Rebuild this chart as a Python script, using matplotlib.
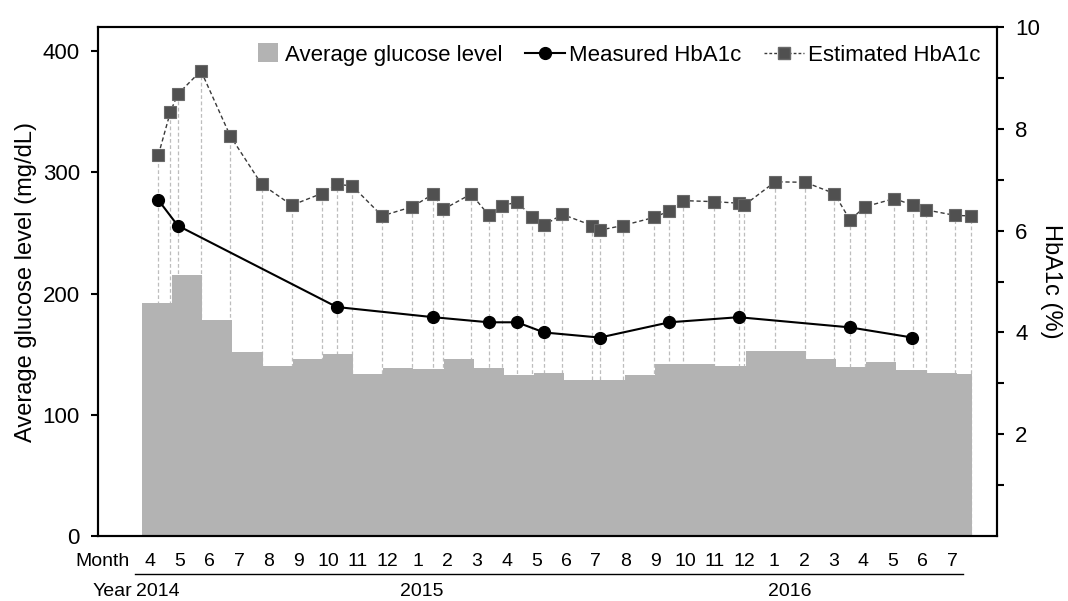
import matplotlib
matplotlib.use("Agg")
import matplotlib.pyplot as plt
import matplotlib.transforms as mtransforms
from matplotlib.legend_handler import HandlerPatch
from matplotlib.lines import Line2D
from matplotlib.patches import Patch, Rectangle
import numpy as np

plt.rcParams["font.family"] = ["Liberation Sans", "DejaVu Sans"]

# monthly average glucose (mg/dL), Apr 2014 .. Jul 2016
months = ["4", "5", "6", "7", "8", "9", "10", "11", "12",
          "1", "2", "3", "4", "5", "6", "7", "8", "9", "10", "11", "12",
          "1", "2", "3", "4", "5", "6", "7"]
years = ["2014", "2015", "2016"]
glucose = [192.7, 215.3, 178.7, 151.8, 140.2, 146.5, 150.4, 133.9, 138.8,
           137.7, 146.0, 139.1, 133.0, 134.2, 128.4, 128.4, 133.0, 142.1,
           141.6, 140.2, 152.8, 152.8, 146.0, 139.4, 143.5, 137.2, 134.2, 133.6]
# fraction of each month covered by the record
coverage = [1.0] * 27 + [0.5]

# measurement times in months since start of Apr 2014
est_t = [0.55, 0.95, 1.19, 1.96, 2.93, 3.97, 4.97, 5.96, 6.46, 6.97, 7.96,
         8.96, 9.66, 9.99, 10.91, 11.50, 11.93, 12.43, 12.94, 13.33, 13.93,
         14.92, 15.17, 15.93, 16.97, 17.48, 17.94, 18.96, 19.77, 19.96, 20.98,
         21.98, 22.94, 23.46, 23.96, 24.93, 25.54, 25.97, 26.94, 27.46]
est_hba1c = [7.49, 8.34, 8.68, 9.14, 7.86, 6.91, 6.50, 6.73, 6.91, 6.88, 6.29,
             6.47, 6.72, 6.42, 6.72, 6.30, 6.49, 6.56, 6.27, 6.11, 6.32,
             6.10, 6.01, 6.10, 6.26, 6.39, 6.59, 6.57, 6.54, 6.50, 6.96,
             6.95, 6.73, 6.21, 6.47, 6.63, 6.50, 6.41, 6.30, 6.29]

meas_t = [0.55, 1.19, 6.46, 9.66, 11.49, 12.43, 13.33, 15.17, 17.48, 19.77,
          23.46, 25.53]
meas_hba1c = [6.6, 6.1, 4.5, 4.3, 4.2, 4.2, 4.0, 3.9, 4.2, 4.3, 4.1, 3.9]

BAR_C = "#b3b3b3"
EST_C = "#505050"


def square_patch(legend, orig_handle, xdescent, ydescent, width, height, fontsize):
    s = height * 1.25
    return Rectangle((xdescent + width - s - 2, ydescent + (height - s) / 2), s, s)


fig = plt.figure(figsize=(10.68, 6.01), dpi=100)
ax1 = fig.add_axes([0.0918, 0.108, 0.8417, 0.847])
ax2 = ax1.twinx()

ax1.set_xlim(-1.45, 28.33)
ax1.set_ylim(0, 420)
ax2.set_ylim(0, 10)

# dashed drop lines, in ax1 behind the bars but scaled by the right axis
blend = mtransforms.blended_transform_factory(ax1.transData, ax2.transData)
ax1.vlines(est_t, 0, est_hba1c, transform=blend, colors="#bdbdbd",
           linestyles=(0, (3, 2)), linewidth=0.9, zorder=1)

ax1.bar(np.arange(len(glucose)), glucose, width=coverage, align="edge",
        color=BAR_C, linewidth=0, zorder=2)

ax2.plot(est_t, est_hba1c, color="#3a3a3a", linewidth=1.0, linestyle=(0, (3, 2)),
         marker="s", markersize=9, markerfacecolor=EST_C,
         markeredgecolor="#6a6a6a", markeredgewidth=0.8, zorder=3)
ax2.plot(meas_t, meas_hba1c, color="black", linewidth=1.5, marker="o",
         markersize=8.5, zorder=4)

for sp in list(ax1.spines.values()) + list(ax2.spines.values()):
    sp.set_linewidth(1.5)

ax1.set_yticks([0, 100, 200, 300, 400])
ax1.tick_params(axis="y", direction="out", length=5, width=1.5, labelsize=16, pad=8)
ax1.set_xticks([])
ax1.set_ylabel("Average glucose level (mg/dL)", fontsize=17, labelpad=4)

ax2.set_yticks([2, 4, 6, 8, 10])
ax2.set_yticks([1, 3, 5, 7, 9], minor=True)
ax2.tick_params(axis="y", which="both", direction="out", length=5, width=1.5,
                labelsize=16, pad=8)
ax2.set_ylabel("HbA1c (%)", fontsize=17, rotation=270, va="center")
ax2.yaxis.set_label_coords(1.06, 0.5)

# month / year rows under the axis
xt = mtransforms.blended_transform_factory(ax1.transData, ax1.transAxes)
for xpos, m in zip(np.linspace(0.27, 26.86, len(months)), months):
    ax1.text(xpos, -0.05, m, transform=xt, ha="center", va="center", fontsize=14)
ax1.text(-0.42, -0.05, "Month", transform=xt, ha="right", va="center", fontsize=14)
ax1.plot([-0.22, 27.19], [-0.075, -0.075], transform=xt, color="black",
         linewidth=1.0, clip_on=False)
ax1.text(-0.33, -0.109, "Year", transform=xt, ha="right", va="center", fontsize=14)
for xpos, y in zip([0.54, 9.28, 21.48], years):
    ax1.text(xpos, -0.109, y, transform=xt, ha="center", va="center", fontsize=14)

handles = [
    Patch(facecolor=BAR_C, edgecolor="none"),
    Line2D([], [], color="black", linewidth=1.5, marker="o", markersize=8.5),
    Line2D([], [], color="#3a3a3a", linewidth=1.0, linestyle=(0, (2, 1.5)),
           marker="s", markersize=9, markerfacecolor=EST_C,
           markeredgecolor="#6a6a6a"),
]
labels = ["Average glucose level", "Measured HbA1c", "Estimated HbA1c"]
ax2.legend(handles, labels, loc="center", bbox_to_anchor=(0.57, 0.945), ncol=3,
           frameon=False, fontsize=16, handlelength=1.8, handletextpad=0.2,
           columnspacing=1.0,
           handler_map={Patch: HandlerPatch(patch_func=square_patch)})

fig.savefig("out.png", dpi=100)
